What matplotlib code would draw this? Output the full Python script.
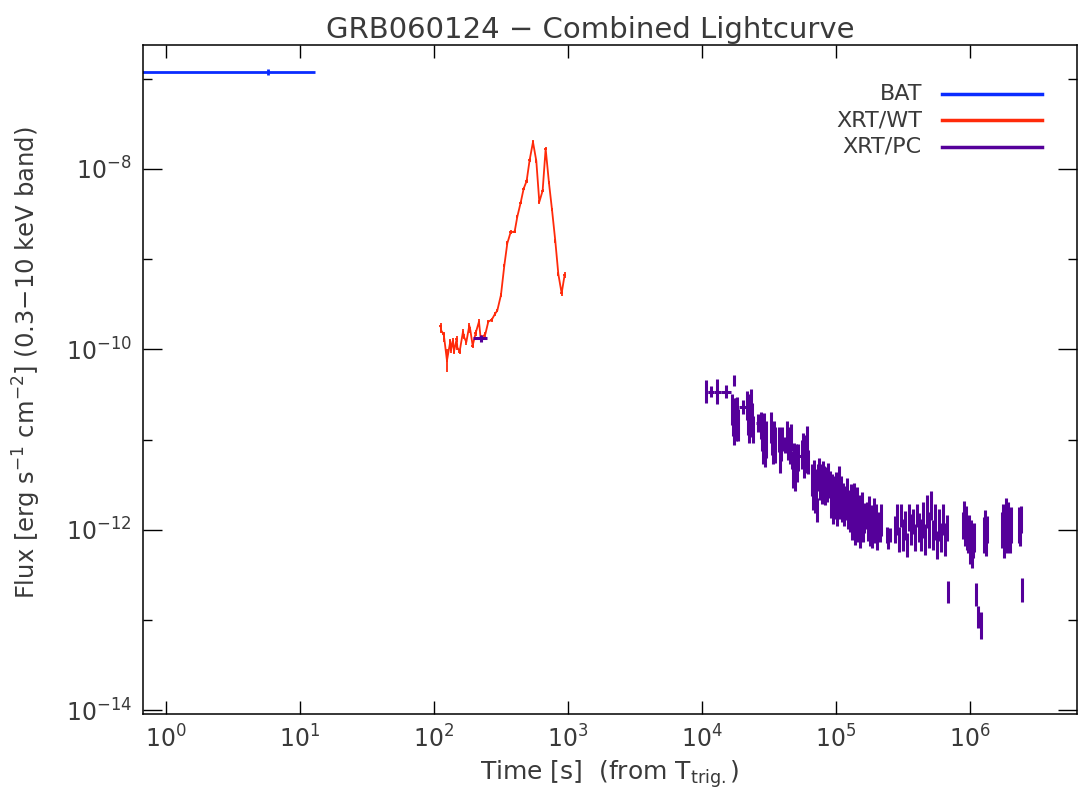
import numpy as np
import matplotlib.pyplot as plt
from matplotlib.ticker import FixedLocator, FuncFormatter, NullLocator, NullFormatter

# ---- BAT (one long bin, extrapolated to 0.3-10 keV)
bat_t = [5.8]
bat_f = [1.19e-7]
bat_tlo = [0.3]
bat_thi = [12.9]

# ---- XRT windowed timing mode
wt_t = [112.1, 113.4, 118.1, 119.5, 125.0, 132.4, 133.9, 138.6, 141.0, 147.6,
        149.4, 155.4, 164.6, 167.4, 174.3, 183.5, 186.7, 194.4, 204.6, 216.7,
        223.0, 241.6, 254.4, 269.4, 285.3, 296.9, 316.2, 334.9, 352.6, 373.4,
        400.0, 418.8, 443.5, 467.0, 491.5, 517.6, 548.1, 580.3, 611.1, 647.1,
        681.4, 721.2, 759.6, 804.4, 847.2, 896.9, 944.3]
wt_f = [1.82e-10, 1.61e-10, 1.47e-10, 1.30e-10, 7.5e-11, 1.23e-10, 9.85e-11, 1.25e-10, 9.44e-11, 1.30e-10,
        1.05e-10, 9.44e-11, 1.57e-10, 1.38e-10, 1.20e-10, 1.83e-10, 1.64e-10, 1.10e-10, 1.51e-10, 2.03e-10,
        1.33e-10, 1.47e-10, 2.03e-10, 2.12e-10, 2.47e-10, 2.69e-10, 4.01e-10, 8.48e-10, 1.50e-9, 1.99e-9,
        2.02e-9, 2.96e-9, 4.23e-9, 6.05e-9, 7.36e-9, 1.26e-8, 1.99e-8, 1.23e-8, 4.31e-9, 5.75e-9,
        1.68e-8, 7.05e-9, 3.57e-9, 1.59e-9, 6.86e-10, 4.18e-10, 6.7e-10]
wt_dlog = [0.03, 0.03, 0.03, 0.03, 0.13, 0.03, 0.03, 0.03, 0.03, 0.03,
           0.03, 0.03, 0.03, 0.03, 0.03, 0.03, 0.03, 0.03, 0.03, 0.03,
           0.03, 0.03, 0.02, 0.02, 0.02, 0.02, 0.02, 0.02, 0.02, 0.02,
           0.02, 0.02, 0.02, 0.02, 0.02, 0.02, 0.02, 0.02, 0.02, 0.02,
           0.02, 0.02, 0.02, 0.02, 0.02, 0.03, 0.03]

# ---- XRT photon counting mode, binned points with long time bins (log10 values)
pcw_logt = [2.350, 4.027, 4.067, 4.115, 4.178, 4.306, 4.421, 4.612, 4.750]
pcw_lo = [2.292, 4.020, 4.045, 4.090, 4.140, 4.276, 4.400, 4.597, 4.709]
pcw_hi = [2.398, 4.045, 4.090, 4.140, 4.215, 4.343, 4.455, 4.627, 4.791]
pcw_logf = [-9.876, -10.47, -10.47, -10.47, -10.47, -10.64, -10.82, -11.07, -11.18]
pcw_dlog = [0.04, 0.13, 0.06, 0.14, 0.07, 0.08, 0.10, 0.06, 0.04]

# ---- XRT photon counting mode, short bins (log10 time [s], log10 flux, half error in dex)
pc_logt = [
    4.226, 4.233, 4.239, 4.240, 4.248, 4.255, 4.263, 4.270,
    4.336, 4.343, 4.351, 4.358, 4.365, 4.373, 4.380,
    4.440, 4.448, 4.455, 4.463, 4.470, 4.478,
    4.515, 4.522, 4.530, 4.537, 4.545,
    4.574, 4.582, 4.590, 4.597, 4.620,
    4.634, 4.642, 4.649, 4.657, 4.664,
    4.672, 4.679, 4.687, 4.694, 4.702, 4.709, 4.716,
    4.746, 4.754, 4.761, 4.769, 4.776, 4.784, 4.791,
    4.821, 4.828, 4.836, 4.843, 4.851, 4.858, 4.866,
    4.873, 4.881, 4.888, 4.896, 4.903, 4.910, 4.918, 4.925, 4.933, 4.940,
    4.955, 4.963, 4.970, 4.978, 4.985, 4.993, 5.000, 5.008,
    5.015, 5.022, 5.030, 5.037, 5.045, 5.052, 5.060, 5.067,
    5.075, 5.082, 5.090, 5.097, 5.104, 5.112, 5.119, 5.127, 5.134, 5.142,
    5.149, 5.157, 5.164, 5.172, 5.179, 5.187, 5.194, 5.201, 5.209,
    5.231, 5.239, 5.246, 5.254, 5.261, 5.269, 5.276, 5.284,
    5.291, 5.298, 5.306, 5.313, 5.321, 5.328, 5.336,
    5.381, 5.390, 5.400,
    5.440, 5.455, 5.470, 5.485, 5.500, 5.515, 5.530, 5.545, 5.560,
    5.575, 5.590, 5.605, 5.620, 5.635, 5.650, 5.665, 5.680, 5.695,
    5.713, 5.725, 5.740, 5.755, 5.770, 5.785, 5.800, 5.815, 5.830, 5.838,
    5.948, 5.955, 5.963, 5.970, 5.978,
    5.985, 5.993, 6.000, 6.007, 6.015, 6.022, 6.030, 6.045, 6.060, 6.080,
    6.104, 6.112, 6.119, 6.127,
    6.239, 6.246, 6.254, 6.261, 6.269, 6.276, 6.284, 6.291, 6.298, 6.306,
    6.366, 6.373, 6.381, 6.388]
pc_logf = [
    -10.67, -10.76, -10.35, -10.84, -10.73, -10.78, -10.70, -10.84,
    -10.62, -10.73, -10.84, -10.67, -10.56, -10.78, -10.89,
    -10.84, -10.95, -11.08, -10.89, -11.14, -11.00,
    -10.87, -11.00, -11.12, -10.96, -11.06,
    -11.00, -11.17, -11.06, -10.95, -11.06,
    -10.92, -11.06, -11.00, -11.12, -10.98,
    -11.23, -11.34, -11.17, -11.39, -11.25, -11.31, -11.20,
    -11.17, -11.06, -11.28, -11.12, -11.23, -11.00, -11.25,
    -11.45, -11.58, -11.39, -11.67, -11.50, -11.78, -11.42,
    -11.34, -11.50, -11.42, -11.56, -11.36, -11.47, -11.61, -11.45, -11.53, -11.40,
    -11.50, -11.67, -11.56, -11.78, -11.61, -11.73, -11.53, -11.80,
    -11.64, -11.45, -11.73, -11.59, -11.78, -11.64, -11.84, -11.67,
    -11.73, -11.61, -11.84, -11.76, -11.89, -11.67, -11.95, -11.78, -11.64, -12.00,
    -11.84, -11.73, -11.98, -11.80, -12.06, -11.89, -11.76, -12.00, -11.87,
    -11.84, -11.95, -11.78, -12.00, -11.89, -12.06, -11.91, -11.78,
    -12.00, -11.87, -12.11, -11.95, -11.98, -12.02, -11.89,
    -12.06, -12.11, -12.06,
    -12.00, -11.89, -12.11, -11.84, -12.06, -11.95, -12.17, -11.87, -12.00,
    -11.91, -12.09, -11.84, -11.98, -12.06, -11.89, -12.11, -11.80, -12.00,
    -11.73, -12.06, -11.91, -12.17, -11.95, -12.09, -11.89, -12.11, -11.98, -12.69,
    -11.95, -11.84, -12.00, -11.89, -12.06,
    -12.11, -12.00, -12.20, -12.06, -12.28, -12.17, -12.09, -12.72, -12.97, -13.06,
    -12.06, -11.95, -12.11, -12.00,
    -12.00, -11.89, -12.11, -11.95, -11.84, -12.06, -11.89, -12.00, -12.11, -11.95,
    -11.95, -12.00, -11.89, -12.67]
pc_dlog = [
    0.17, 0.20, 0.06, 0.22, 0.19, 0.24, 0.17, 0.18,
    0.16, 0.22, 0.20, 0.17, 0.12, 0.19, 0.15,
    0.15, 0.18, 0.19, 0.18, 0.17, 0.20,
    0.17, 0.17, 0.15, 0.17, 0.20,
    0.14, 0.20, 0.18, 0.09, 0.09,
    0.12, 0.17, 0.14, 0.15, 0.15,
    0.10, 0.20, 0.13, 0.18, 0.20, 0.16, 0.15,
    0.16, 0.13, 0.15, 0.17, 0.14, 0.15, 0.13,
    0.18, 0.20, 0.16, 0.14, 0.17, 0.13, 0.15,
    0.14, 0.17, 0.15, 0.16, 0.12, 0.18, 0.12, 0.15, 0.16, 0.14,
    0.15, 0.20, 0.18, 0.16, 0.20, 0.15, 0.17, 0.16,
    0.20, 0.16, 0.15, 0.18, 0.14, 0.16, 0.12, 0.15,
    0.16, 0.18, 0.15, 0.20, 0.14, 0.18, 0.16, 0.20, 0.16, 0.17,
    0.17, 0.20, 0.16, 0.18, 0.14, 0.20, 0.18, 0.14, 0.17,
    0.15, 0.17, 0.15, 0.18, 0.16, 0.14, 0.17, 0.13,
    0.15, 0.16, 0.12, 0.15, 0.14, 0.12, 0.18,
    0.09, 0.10, 0.08,
    0.15, 0.17, 0.14, 0.13, 0.18, 0.16, 0.13, 0.15, 0.17,
    0.14, 0.15, 0.13, 0.16, 0.18, 0.20, 0.17, 0.18, 0.20,
    0.16, 0.17, 0.20, 0.15, 0.18, 0.16, 0.17, 0.18, 0.14, 0.12,
    0.15, 0.16, 0.18, 0.15, 0.17,
    0.15, 0.16, 0.18, 0.17, 0.15, 0.14, 0.16, 0.13, 0.12, 0.15,
    0.20, 0.17, 0.18, 0.15,
    0.20, 0.18, 0.20, 0.17, 0.19, 0.20, 0.20, 0.17, 0.15, 0.20,
    0.20, 0.18, 0.15, 0.13]

c_bat = '#0a2cff'
c_wt = '#ff2a0a'
c_pc = '#55009a'
c_txt = '#3a3a3a'


def log_errs(logf, dlog):
    logf = np.asarray(logf)
    dlog = np.asarray(dlog)
    f = 10.0 ** logf
    return f, [f - 10.0 ** (logf - dlog), 10.0 ** (logf + dlog) - f]


fig = plt.figure(figsize=(10.79, 7.95), dpi=100)
ax = fig.add_axes([143 / 1079, 1 - 714 / 795, 934 / 1079, 669 / 795])

# BAT
bt = np.array(bat_t)
bf, byerr = log_errs(np.log10(bat_f), [0.035])
ax.errorbar(bat_t, bat_f, xerr=[bt - np.array(bat_tlo), np.array(bat_thi) - bt],
            yerr=byerr, fmt='none', ecolor=c_bat, elinewidth=2)

# WT
wt_t_arr = np.array(wt_t)
wf, wyerr = log_errs(np.log10(wt_f), wt_dlog)
ax.plot(wt_t, wt_f, color=c_wt, lw=1.3)
ax.errorbar(wt_t, wt_f, xerr=0.02 * wt_t_arr, yerr=wyerr, fmt='none',
            ecolor=c_wt, elinewidth=1.3)

# PC
pf, pyerr = log_errs(pc_logf, pc_dlog)
ax.errorbar(10.0 ** np.array(pc_logt), pf, yerr=pyerr, fmt='none',
            ecolor=c_pc, elinewidth=2.2)
wpf, wpyerr = log_errs(pcw_logf, pcw_dlog)
wpt = 10.0 ** np.array(pcw_logt)
ax.errorbar(wpt, wpf, xerr=[wpt - 10.0 ** np.array(pcw_lo), 10.0 ** np.array(pcw_hi) - wpt],
            yerr=wpyerr, fmt='none', ecolor=c_pc, elinewidth=2.2)

ax.set_xscale('log')
ax.set_yscale('log')
ax.set_xlim(10 ** -0.1716, 10 ** 6.799)
ax.set_ylim(10 ** -14.044, 10 ** -6.625)

ax.xaxis.set_major_locator(FixedLocator([10.0 ** k for k in range(0, 7)]))
ax.xaxis.set_minor_locator(NullLocator())
ax.yaxis.set_major_locator(FixedLocator([10.0 ** k for k in range(-14, -6, 2)]))
ax.yaxis.set_minor_locator(FixedLocator([10.0 ** k for k in range(-13, -6, 2)]))
ax.yaxis.set_minor_formatter(NullFormatter())
ax.xaxis.set_major_formatter(FuncFormatter(lambda v, p: r'$10^{%d}$' % round(np.log10(v))))
ax.yaxis.set_major_formatter(FuncFormatter(lambda v, p: r'$10^{%d}$' % round(np.log10(v))))

ax.tick_params(axis='both', which='both', direction='in', top=True, right=True,
               colors='black', labelcolor=c_txt, labelsize=17, width=1)
ax.tick_params(axis='x', which='major', length=9.5, pad=8)
ax.tick_params(axis='y', which='major', length=14, pad=8)
ax.tick_params(axis='y', which='minor', length=6.5)
for s in ax.spines.values():
    s.set_linewidth(1.1)

ax.set_title('GRB060124 \u2212 Combined Lightcurve', fontsize=21, color=c_txt,
             x=0.479, pad=5)
ax.set_xlabel(r'Time [s]  (from T$_{\rm trig.}$)', fontsize=18, color=c_txt, labelpad=4)
ax.set_ylabel(r'Flux [erg s$^{-1}$ cm$^{-2}$] (0.3$-$10 keV band)', fontsize=17.5,
              color=c_txt)
ax.yaxis.set_label_coords(-0.107, 0.525)

# legend, labels right-aligned in front of the line samples
leg_names = ['BAT', 'XRT/WT', 'XRT/PC']
leg_cols = [c_bat, c_wt, c_pc]
for i, (name, col) in enumerate(zip(leg_names, leg_cols)):
    yy = 0.927 - i * 0.0395
    ax.text(0.834, yy, name, transform=ax.transAxes, ha='right', va='center',
            fontsize=16, color=c_txt)
    ax.plot([0.855, 0.9625], [yy, yy], transform=ax.transAxes, color=col, lw=2.5)

fig.savefig('out.png', dpi=100)
